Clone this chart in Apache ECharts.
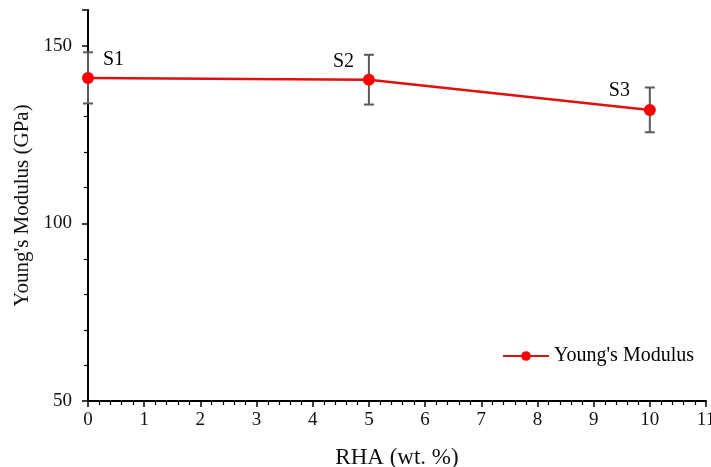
<!DOCTYPE html>
<html><head><meta charset="utf-8">
<script src="https://cdn.jsdelivr.net/npm/echarts@6/dist/echarts.min.js"></script>
<style>html,body{margin:0;padding:0;background:#fff}#c{width:711px;height:467px}</style>
</head><body><div id="c"></div>
<script>
const rha = [0, 5, 10];
const modulus = [140.9, 140.4, 131.9];
const errPlus = [7.2, 7.0, 6.3];
const errMinus = [7.2, 7.0, 6.3];
const sampleLabels = ['S1', 'S2', 'S3'];
const seriesName = "Young's Modulus";
const xTitle = 'RHA (wt. %)';
const yTitle = "Young's Modulus (GPa)";

const font = 'Liberation Serif, Times New Roman, serif';
const chart = echarts.init(document.getElementById('c'));
const labelPos = [[21, -22], [-30, -22], [-35, -23]];
const lineData = rha.map((x, i) => ({
  value: [x, modulus[i]],
  label: {
    show: true, formatter: sampleLabels[i],
    position: labelPos[i],
    color: '#000', fontFamily: font, fontSize: 20
  }
}));
const errData = rha.map((x, i) => [x, modulus[i] - errMinus[i], modulus[i] + errPlus[i]]);

chart.setOption({
  animation: false,
  grid: { left: 88, right: 5, top: 10, bottom: 66, containLabel: false, outerBoundsMode: 'none' },
  legend: {
    data: [seriesName], right: 12, top: 341,
    itemWidth: 46, itemHeight: 12, itemGap: 6,
    textStyle: { fontFamily: font, fontSize: 20, color: '#000' }
  },
  xAxis: {
    type: 'value', min: 0, max: 11, interval: 1,
    name: xTitle, nameLocation: 'middle', nameGap: 45,
    nameTextStyle: { fontFamily: font, fontSize: 23, color: '#111' },
    axisLine: { lineStyle: { color: '#000', width: 2 } },
    axisTick: { show: true, length: 6, lineStyle: { color: '#000', width: 1.5 } },
    minorTick: { show: true, splitNumber: 5, length: 4, lineStyle: { color: '#000', width: 1.2 } },
    axisLabel: { fontFamily: font, fontSize: 19, color: '#111', margin: 10 },
    splitLine: { show: false }
  },
  yAxis: {
    type: 'value', min: 50, max: 160, interval: 50,
    name: yTitle, nameLocation: 'middle', nameGap: 55, nameRotate: 90,
    nameTextStyle: { fontFamily: font, fontSize: 21, color: '#111' },
    axisLine: { show: true, onZero: false, lineStyle: { color: '#000', width: 2 } },
    axisTick: { show: true, length: 6, lineStyle: { color: '#000', width: 1.5 } },
    minorTick: { show: true, splitNumber: 5, length: 4, lineStyle: { color: '#000', width: 1.2 } },
    axisLabel: { fontFamily: font, fontSize: 19, color: '#111', margin: 16,
      formatter: v => (v % 50 === 0 ? v : '') },
    splitLine: { show: false }
  },
  series: [
    {
      type: 'custom', name: 'err', silent: true, z: 1,
      renderItem: function (params, api) {
        const x = api.value(0);
        const lo = api.coord([x, api.value(1)]);
        const hi = api.coord([x, api.value(2)]);
        const w = 5;
        const st = { stroke: '#5a5a5a', lineWidth: 2 };
        return { type: 'group', children: [
          { type: 'line', shape: { x1: lo[0], y1: lo[1], x2: hi[0], y2: hi[1] }, style: st },
          { type: 'line', shape: { x1: lo[0] - w, y1: lo[1], x2: lo[0] + w, y2: lo[1] }, style: st },
          { type: 'line', shape: { x1: hi[0] - w, y1: hi[1], x2: hi[0] + w, y2: hi[1] }, style: st }
        ]};
      },
      data: errData
    },
    {
      type: 'line', name: seriesName, z: 3,
      data: lineData,
      symbol: 'circle', symbolSize: 12,
      itemStyle: { color: '#ff0000' },
      lineStyle: { color: '#e01010', width: 2.5 }
    }
  ]
});
</script></body></html>
